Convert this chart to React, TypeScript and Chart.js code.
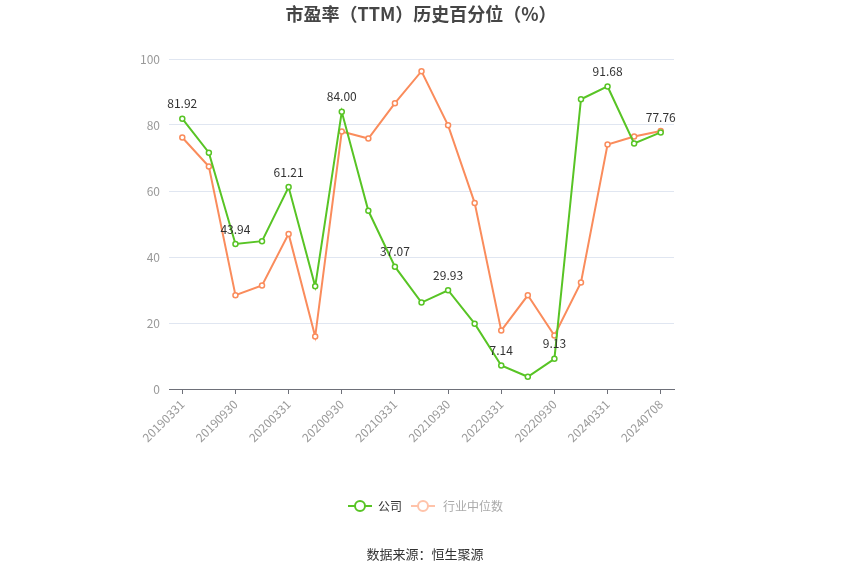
import React, { useEffect, useRef } from "react";
import { Chart, registerables } from "chart.js";

Chart.register(...registerables);

const categories = [
  "20190331", "20190630", "20190930", "20191231", "20200331", "20200630",
  "20200930", "20201231", "20210331", "20210630", "20210930", "20211231",
  "20220331", "20220630", "20220930", "20231231", "20240331", "20240630",
  "20240708",
];
const companyValues = [
  81.92, 71.6, 43.94, 44.8, 61.21, 31.1, 84.0, 54.0, 37.07, 26.2, 29.93, 19.8,
  7.14, 3.7, 9.13, 87.8, 91.68, 74.4, 77.76,
];
const industryValues = [
  76.2, 67.4, 28.4, 31.4, 47.0, 15.9, 78.0, 75.9, 86.6, 96.3, 79.9, 56.4,
  17.7, 28.4, 16.2, 32.3, 74.1, 76.5, 78.2,
];
const yTicks = [0, 20, 40, 60, 80, 100];
const seriesNames = ["公司", "行业中位数"];
const titleText = "市盈率（TTM）历史百分位（%）";
const sourceText = "数据来源：恒生聚源";

const GREEN = "#58c425";
const ORANGE = "#fa8c5c";
const FONT = "'Noto Sans CJK SC', 'Noto Sans', sans-serif";

const decorPlugin = {
  id: "decor",
  afterDatasetsDraw(chart: any) {
    const ctx = chart.ctx;
    ctx.save();
    const meta = chart.getDatasetMeta(0);
    ctx.font = `12px ${FONT}`;
    ctx.fillStyle = "#333";
    ctx.textAlign = "center";
    ctx.textBaseline = "middle";
    meta.data.forEach((pt: any, i: number) => {
      if (i % 2 !== 0) return;
      ctx.fillText(companyValues[i].toFixed(2), pt.x, pt.y - 15);
    });

    ctx.font = `bold 18px ${FONT}`;
    ctx.fillStyle = "#464646";
    ctx.fillText(titleText, 421, 14);

    const drawIcon = (cx: number, color: string) => {
      ctx.strokeStyle = color;
      ctx.lineWidth = 2;
      ctx.beginPath();
      ctx.moveTo(cx - 12, 506);
      ctx.lineTo(cx + 12, 506);
      ctx.stroke();
      ctx.beginPath();
      ctx.arc(cx, 506, 5, 0, Math.PI * 2);
      ctx.fillStyle = "#fff";
      ctx.fill();
      ctx.stroke();
    };
    drawIcon(360, GREEN);
    drawIcon(423, "#ffc3aa");
    ctx.font = `12px ${FONT}`;
    ctx.textAlign = "left";
    ctx.fillStyle = "#333";
    ctx.fillText(seriesNames[0], 378, 506);
    ctx.fillStyle = "#aaa";
    ctx.fillText(seriesNames[1], 443, 506);

    ctx.textAlign = "center";
    ctx.font = `13px ${FONT}`;
    ctx.fillStyle = "#333";
    ctx.fillText(sourceText, 425, 554);
    ctx.restore();
  },
};

export default function App() {
  const ref = useRef<HTMLCanvasElement | null>(null);
  useEffect(() => {
    if (!ref.current) return;
    const chart = new Chart(ref.current, {
      type: "line",
      data: {
        labels: categories,
        datasets: [
          {
            label: seriesNames[0],
            data: companyValues,
            borderColor: GREEN,
            backgroundColor: "#fff",
            pointBackgroundColor: "#fff",
            pointBorderColor: GREEN,
            borderWidth: 2,
            pointRadius: 2.5,
            pointBorderWidth: 1.5,
            tension: 0,
          },
          {
            label: seriesNames[1],
            data: industryValues,
            borderColor: ORANGE,
            backgroundColor: "#fff",
            pointBackgroundColor: "#fff",
            pointBorderColor: ORANGE,
            borderWidth: 2,
            pointRadius: 2.5,
            pointBorderWidth: 1.5,
            tension: 0,
          },
        ],
      },
      options: {
        responsive: false,
        animation: false,
        devicePixelRatio: 1,
        layout: { padding: { top: 59, left: 130, right: 176, bottom: 0 } },
        plugins: {
          legend: { display: false },
          title: { display: false },
          tooltip: { enabled: false },
        },
        scales: {
          x: {
            offset: true,
            grid: {
              drawOnChartArea: false,
              drawTicks: true,
              tickLength: 5,
              color: "#6e7079",
            },
            border: { display: true, color: "#6e7079", width: 1 },
            ticks: {
              autoSkip: false,
              maxRotation: 45,
              minRotation: 45,
              color: "#999",
              font: { size: 12, family: FONT },
              padding: 3,
              callback: (_v: any, i: number) => (i % 2 === 0 ? categories[i] : null),
            },
            afterFit: (s: any) => {
              s.height = 186;
            },
          },
          y: {
            min: 0,
            max: 100,
            afterBuildTicks: (s: any) => {
              s.ticks = yTicks.map((v) => ({ value: v }));
            },
            grid: { color: "#e0e6f1", drawTicks: false },
            border: { display: false },
            ticks: {
              color: "#999",
              font: { size: 12, family: FONT },
              padding: 9,
            },
            afterFit: (s: any) => {
              s.width = 39;
            },
          },
        },
      },
      plugins: [decorPlugin],
    });
    return () => chart.destroy();
  }, []);
  return (
    <div style={{ position: "absolute", left: 0, top: 0, width: 850, height: 575 }}>
      <canvas ref={ref} width={850} height={575} style={{ display: "block" }} />
    </div>
  );
}
